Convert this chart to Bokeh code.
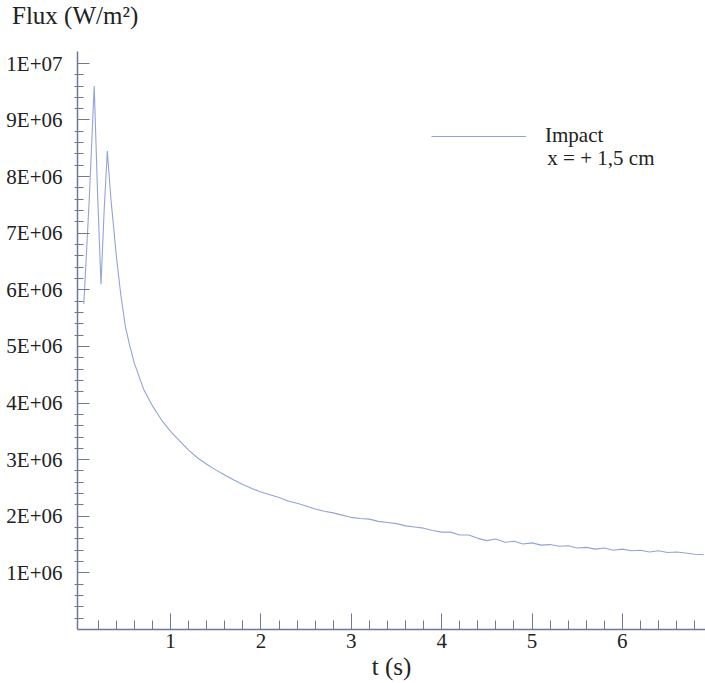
from bokeh.plotting import figure
from bokeh.layouts import column
from bokeh.models import (FixedTicker, Range1d, Legend, LegendItem, Label, Div)
from bokeh.embed import file_html
from bokeh.resources import INLINE

# ---- data ----
t_s = [0.04, 0.10, 0.155, 0.19, 0.23, 0.265, 0.30, 0.34, 0.40, 0.45, 0.50,
       0.55, 0.60, 0.70, 0.80, 0.90, 1.0, 1.1, 1.2, 1.3, 1.4, 1.5, 1.6, 1.7,
       1.8, 1.9, 2.0, 2.1, 2.2, 2.3, 2.4, 2.5, 2.6, 2.7, 2.8, 2.9,
       3.0, 3.1, 3.2, 3.3, 3.4, 3.5, 3.6, 3.7, 3.8, 3.9,
       4.0, 4.1, 4.2, 4.3, 4.4, 4.5, 4.6, 4.7, 4.8, 4.9,
       5.0, 5.1, 5.2, 5.3, 5.4, 5.5, 5.6, 5.7, 5.8, 5.9,
       6.0, 6.1, 6.2, 6.3, 6.4, 6.5, 6.6, 6.7, 6.8, 6.9]
flux_mw = [5.75, 7.6, 9.6, 7.8, 6.1, 7.4, 8.45, 7.6, 6.6, 5.9, 5.35,
           5.0, 4.7, 4.25, 3.95, 3.7, 3.5, 3.33, 3.17, 3.03, 2.92, 2.82, 2.73, 2.64,
           2.56, 2.49, 2.43, 2.38, 2.33, 2.27, 2.23, 2.18, 2.13, 2.09, 2.06, 2.02,
           1.98, 1.96, 1.95, 1.91, 1.89, 1.87, 1.83, 1.81, 1.79, 1.75,
           1.72, 1.72, 1.67, 1.67, 1.61, 1.57, 1.60, 1.54, 1.56, 1.51,
           1.53, 1.49, 1.50, 1.47, 1.48, 1.44, 1.45, 1.42, 1.44, 1.40,
           1.42, 1.39, 1.40, 1.37, 1.39, 1.36, 1.37, 1.35, 1.33, 1.32]
flux = [v * 1e6 for v in flux_mw]

x_ticks = [1, 2, 3, 4, 5, 6]
x_minor = [0.2, 0.4, 0.6, 0.8, 1.2, 1.4, 1.6, 1.8, 2.2, 2.4, 2.6, 2.8,
           3.2, 3.4, 3.6, 3.8, 4.2, 4.4, 4.6, 4.8, 5.2, 5.4, 5.6, 5.8,
           6.2, 6.4, 6.6, 6.8]
y_ticks = [1e6, 2e6, 3e6, 4e6, 5e6, 6e6, 7e6, 8e6, 9e6, 1e7]
y_tick_labels = ["1E+06", "2E+06", "3E+06", "4E+06", "5E+06",
                 "6E+06", "7E+06", "8E+06", "9E+06", "1E+07"]
y_minor = [k * 2e5 for k in range(1, 51) if k % 5 != 0]

series_label = "Impact"
series_label2 = "x = + 1,5 cm"
x_title = "t (s)"
y_title = "Flux (W/m\u00b2)"

FONT = "Liberation Serif"
AXC = "#6b7896"
LINEC = "#93a3d9"

head = Div(text=y_title, width=705, height=41,
           styles={"font-family": FONT, "font-size": "25px", "color": "#222222",
                   "line-height": "22px", "padding-left": "7px",
                   "padding-top": "0px", "white-space": "nowrap"})

p = figure(width=705, height=634, output_backend="svg", toolbar_location=None,
           x_range=Range1d(-0.03, 6.92), y_range=Range1d(0, 10.21e6),
           min_border_left=77, min_border_right=0, min_border_top=0,
           min_border_bottom=56)
p.outline_line_color = None
p.xgrid.visible = False
p.ygrid.visible = False
p.background_fill_color = "white"
p.border_fill_color = "white"

r = p.line(t_s, flux, line_color=LINEC, line_width=1.1)

# x axis
xa = p.xaxis[0]
xa.ticker = FixedTicker(ticks=x_ticks, minor_ticks=x_minor)
xa.axis_line_color = AXC
xa.axis_line_width = 1.5
xa.major_tick_line_color = AXC
xa.minor_tick_line_color = AXC
xa.major_tick_in = 16
xa.major_tick_out = 0
xa.minor_tick_in = 9
xa.minor_tick_out = 0
xa.major_label_text_font = FONT
xa.major_label_text_font_size = "21px"
xa.major_label_text_color = "#222222"
xa.major_label_standoff = 4
xa.axis_label = x_title
xa.axis_label_text_font = FONT
xa.axis_label_text_font_size = "25px"
xa.axis_label_text_font_style = "normal"
xa.axis_label_text_color = "#222222"
xa.axis_label_standoff = 2

# y axis
ya = p.yaxis[0]
ya.ticker = FixedTicker(ticks=y_ticks, minor_ticks=y_minor)
ya.major_label_overrides = {tv: lab for tv, lab in zip(y_ticks, y_tick_labels)}
ya.axis_line_color = AXC
ya.axis_line_width = 1.5
ya.major_tick_line_color = AXC
ya.minor_tick_line_color = AXC
ya.major_tick_in = 12
ya.major_tick_out = 0
ya.minor_tick_in = 6
ya.minor_tick_out = 3
ya.major_label_text_font = FONT
ya.major_label_text_font_size = "21px"
ya.major_label_text_color = "#222222"
ya.major_label_standoff = 12

# legend
leg = Legend(items=[LegendItem(label=series_label, renderers=[r])],
             location=(354, 481), padding=0, margin=0, spacing=0,
             glyph_width=95, glyph_height=24, label_height=24,
             label_standoff=19, border_line_color=None,
             background_fill_alpha=0,
             label_text_font=FONT, label_text_font_size="21px",
             label_text_color="#222222")
p.add_layout(leg, "center")
p.add_layout(Label(x=5.17, y=8.32e6, text=series_label2,
                   text_font=FONT, text_font_size="21px", text_color="#222222",
                   text_align="left", text_baseline="middle"))

layout = column(head, p, spacing=0)
open("out.html", "w").write(file_html(layout, INLINE))
